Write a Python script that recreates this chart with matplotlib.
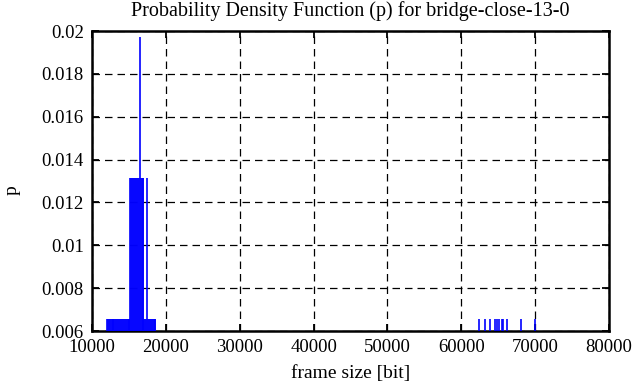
import numpy as np
import matplotlib.pyplot as plt

plt.rcParams['font.family'] = ['Liberation Serif', 'DejaVu Serif']

# frame sizes [bit] and probabilities (counts / 152 frames)
N = 152.0
sizes_1 = [12010, 12140, 12265, 12390, 12520, 12650, 12780, 12905, 13030, 13160,
           13290, 13415, 13540, 13670, 13800, 13925, 14050, 14180, 14310, 14435,
           14560, 14690, 14820, 14945, 15070, 17010, 17140, 17270, 17560, 17690,
           17820, 17950, 18080, 18210, 18340, 18470, 18560,
           62340, 63200, 63920, 64595, 64770, 65135, 65500, 65675, 66255, 68110, 70000]
sizes_2 = [15150, 15280, 15410, 15540, 15670, 15800, 15930, 16060, 16190, 16320,
           16580, 16710, 16840, 16920, 17430]
sizes_3 = [16470]

frame_size = np.array(sizes_1 + sizes_2 + sizes_3)
count = np.array([1] * len(sizes_1) + [2] * len(sizes_2) + [3] * len(sizes_3))
p = count / N

fig = plt.figure(figsize=(6.36, 3.87), dpi=100)
ax = fig.add_axes([92/636, 1 - 331/387, (609 - 92)/636, (331 - 31)/387])

ax.vlines(frame_size, 0, p, color='#0000ff', lw=1.2, zorder=3)

ax.set_xlim(10000, 80000)
ax.set_ylim(0.006, 0.02)
ax.set_xticks(np.arange(10000, 80001, 10000))
ax.set_yticks([0.006, 0.008, 0.01, 0.012, 0.014, 0.016, 0.018, 0.02])
ax.set_yticklabels(['0.006', '0.008', '0.01', '0.012', '0.014', '0.016', '0.018', '0.02'])
ax.grid(True, color='black', linestyle=(0, (6, 4)), lw=0.9)
ax.tick_params(direction='in', length=5, width=1.3, top=True, right=True,
               labelsize=13.5, pad=6)
for s in ax.spines.values():
    s.set_linewidth(1.8)

ax.set_title('Probability Density Function (p) for bridge-close-13-0', fontsize=14.5, pad=11)
ax.set_xlabel('frame size [bit]', fontsize=14, labelpad=6)
ax.set_ylabel('p', fontsize=14)
ax.yaxis.set_label_coords(-0.138, 0.47)

fig.savefig('out.png', dpi=100)
